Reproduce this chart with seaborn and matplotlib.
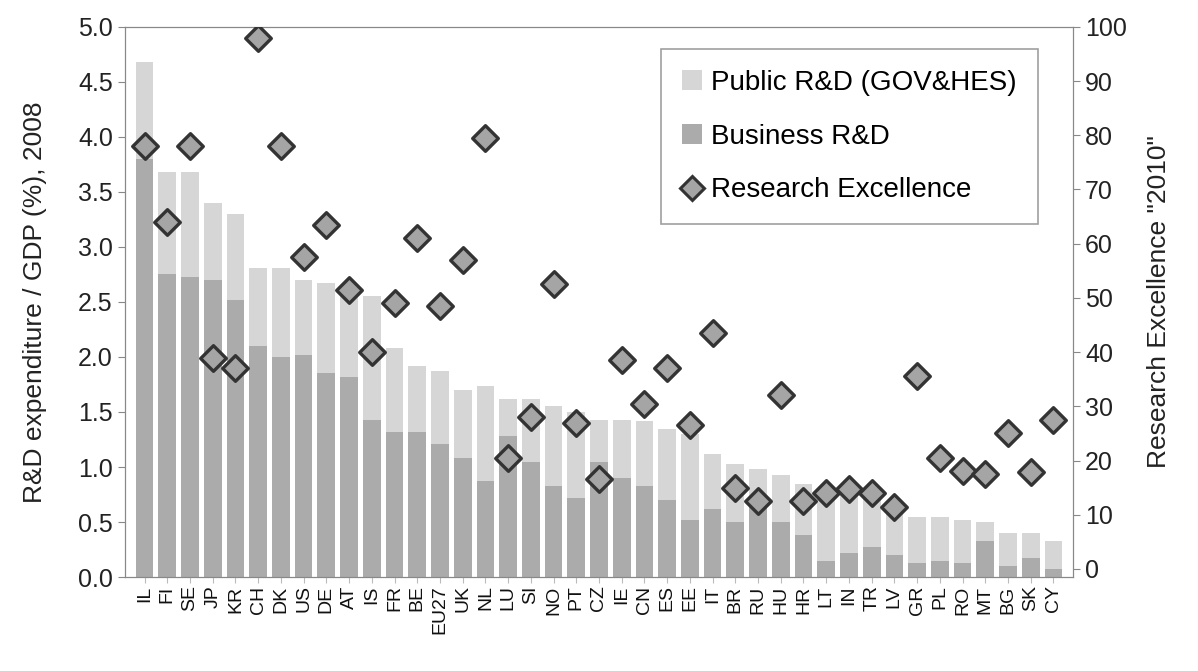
import numpy as np
import pandas as pd
import matplotlib
matplotlib.use("Agg")
import matplotlib.pyplot as plt
import seaborn as sns
from matplotlib.patches import Patch
from matplotlib.lines import Line2D

# country codes, sorted by total R&D intensity
countries = ["IL", "FI", "SE", "JP", "KR", "CH", "DK", "US", "DE", "AT", "IS",
             "FR", "BE", "EU27", "UK", "NL", "LU", "SI", "NO", "PT", "CZ",
             "IE", "CN", "ES", "EE", "IT", "BR", "RU", "HU", "HR", "LT",
             "IN", "TR", "LV", "GR", "PL", "RO", "MT", "BG", "SK", "CY"]

# total R&D expenditure (% of GDP), 2008
total_rd = [4.68, 3.68, 3.68, 3.40, 3.30, 2.81, 2.81, 2.70, 2.67, 2.65, 2.55,
            2.08, 1.92, 1.87, 1.70, 1.74, 1.62, 1.62, 1.55, 1.50, 1.43,
            1.43, 1.42, 1.35, 1.30, 1.12, 1.03, 0.98, 0.93, 0.85, 0.80,
            0.75, 0.72, 0.60, 0.55, 0.55, 0.52, 0.50, 0.40, 0.40, 0.33]

# business R&D (% of GDP)
business_rd = [3.80, 2.75, 2.73, 2.70, 2.52, 2.10, 2.00, 2.02, 1.85, 1.82, 1.43,
               1.32, 1.32, 1.21, 1.08, 0.87, 1.28, 1.05, 0.83, 0.72, 1.05,
               0.90, 0.83, 0.70, 0.52, 0.62, 0.50, 0.65, 0.50, 0.38, 0.15,
               0.22, 0.27, 0.20, 0.13, 0.15, 0.13, 0.33, 0.10, 0.17, 0.07]

# research excellence composite indicator
excellence = [78, 64, 78, 39, 37, 98, 78, 57.5, 63.5, 51.5, 40,
              49, 61, 48.5, 57, 79.5, 20.5, 28, 52.5, 27, 16.5,
              38.5, 30.5, 37, 26.5, 43.5, 15, 12.5, 32, 12.5, 14,
              14.8, 14, 11.5, 35.5, 20.5, 18, 17.5, 25, 17.8, 27.5]

df = pd.DataFrame({"country": countries, "total": total_rd,
                   "business": business_rd, "excellence": excellence})

plt.rcParams['font.family'] = ['Liberation Sans', 'DejaVu Sans']

fig = plt.figure(figsize=(11.98, 6.71), dpi=100)
ax = fig.add_axes([0.104, 0.140, 0.792, 0.820])

pub_color = "#d6d6d6"
bus_color = "#ababab"

sns.barplot(data=df, x="country", y="total", color=pub_color, width=0.78,
            ax=ax, saturation=1)
sns.barplot(data=df, x="country", y="business", color=bus_color, width=0.78,
            ax=ax, saturation=1)

ax.set_xlim(-0.88, len(countries) - 0.12)
ax.set_ylim(0, 5.0)
ax.set_yticks(np.arange(0, 5.01, 0.5))
ax.set_yticklabels([f"{v:.1f}" for v in np.arange(0, 5.01, 0.5)], fontsize=18,
                   color="#222222")
ax.set_xticks(range(len(countries)))
ax.set_xticklabels(countries, rotation=90, fontsize=14, color="#111111")
ax.set_xlabel("")
ax.set_ylabel("R&D expenditure / GDP (%), 2008", fontsize=19, color="#222222",
              labelpad=22)
for s in ax.spines.values():
    s.set_color("#888888")
ax.tick_params(axis="y", color="#888888", length=5)
ax.tick_params(axis="x", color="#bbbbbb", length=4, pad=2)

ax2 = ax.twinx()
sns.scatterplot(x=np.arange(len(countries)), y=df["excellence"], marker="D",
                s=170, color="#a5a5a5", edgecolor="#333333", linewidth=2.4,
                ax=ax2, zorder=5, legend=False)
ax2.set_ylim(-1.5, 100)
ax2.set_yticks(range(0, 101, 10))
ax2.set_yticklabels([str(v) for v in range(0, 101, 10)], fontsize=18,
                    color="#222222")
ax2.set_ylabel('Research Excellence "2010"', fontsize=19, color="#222222",
               labelpad=14)
ax2.tick_params(axis="y", color="#888888", length=5)
for s in ax2.spines.values():
    s.set_color("#888888")
ax2.set_xlim(ax.get_xlim())

handles = [Patch(facecolor=pub_color, edgecolor="none", label="Public R&D (GOV&HES)"),
           Patch(facecolor=bus_color, edgecolor="none", label="Business R&D"),
           Line2D([], [], marker="D", linestyle="none", markersize=12,
                  markerfacecolor="#a5a5a5", markeredgecolor="#333333",
                  markeredgewidth=2.2, label="Research Excellence")]
leg = ax2.legend(handles=handles, loc="upper right", bbox_to_anchor=(0.977, 0.985),
                 fontsize=20, frameon=True, fancybox=False, edgecolor="#888888",
                 handlelength=0.7, handleheight=0.7, handletextpad=0.35,
                 labelspacing=1.0, borderpad=0.75)
leg.get_frame().set_linewidth(1.2)

fig.savefig("out.png", dpi=100)
